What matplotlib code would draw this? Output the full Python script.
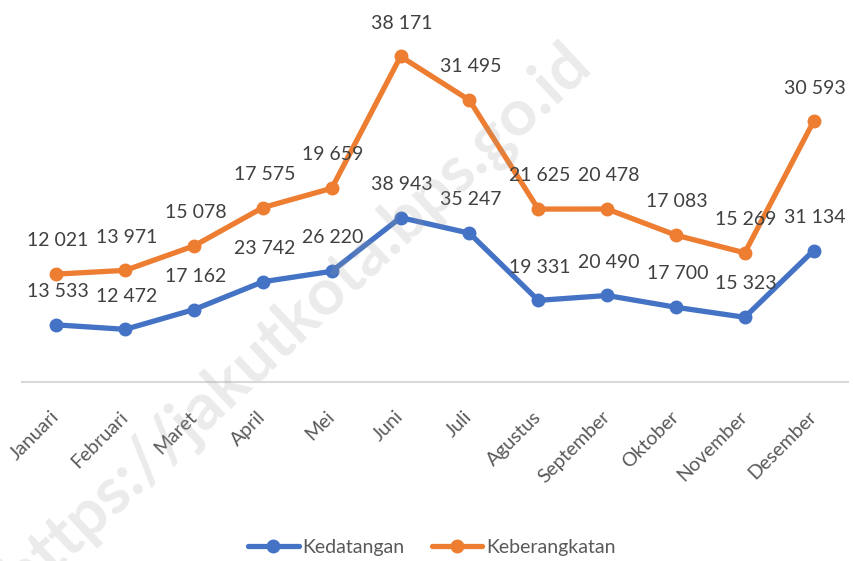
import matplotlib
matplotlib.use("Agg")
import matplotlib.pyplot as plt
import numpy as np

months = ["Januari", "Februari", "Maret", "April", "Mei", "Juni", "Juli",
          "Agustus", "September", "Oktober", "November", "Desember"]
kedatangan = [13533, 12472, 17162, 23742, 26220, 38943, 35247,
              19331, 20490, 17700, 15323, 31134]
keberangkatan = [12021, 13971, 15078, 17575, 19659, 38171, 31495,
                 21625, 20478, 17083, 15269, 30593]

plt.rcParams['font.family'] = ['Lato', 'DejaVu Sans']

fig = plt.figure(figsize=(8.54, 5.61), dpi=100)
ax = fig.add_axes([22/854, (561-382)/561, (848-22)/854, 380/561])

x = np.arange(len(months))
blue = '#4472C4'
orange = '#ED7D31'
stacked = np.array(kedatangan) + np.array(keberangkatan)

ax.plot(x, kedatangan, color=blue, lw=3.8, marker='o', ms=9,
        solid_capstyle='round', label='Kedatangan', zorder=3)
ax.plot(x, stacked, color=orange, lw=3.8, marker='o', ms=9,
        solid_capstyle='round', label='Keberangkatan', zorder=3)

def fmt(v):
    return f"{v:,}".replace(",", " ")

for xi, v in zip(x, kedatangan):
    ax.annotate(fmt(v), (xi, v), xytext=(1, 24), textcoords='offset points',
                ha='center', va='center', fontsize=14, color='#404040', zorder=4)
for xi, v, s in zip(x, keberangkatan, stacked):
    ax.annotate(fmt(v), (xi, s), xytext=(1, 24), textcoords='offset points',
                ha='center', va='center', fontsize=14, color='#404040', zorder=4)

ax.set_xlim(-0.5, len(months) - 0.5)
ax.set_ylim(0, 90000)
ax.set_yticks([])
for sp in ['top', 'right', 'left']:
    ax.spines[sp].set_visible(False)
ax.spines['bottom'].set_color('#D9D9D9')
ax.spines['bottom'].set_linewidth(1.5)
ax.set_xticks(x)
ax.set_xticklabels(months, rotation=45, ha='right', va='center',
                   rotation_mode='anchor', fontsize=14, color='#595959')
ax.tick_params(axis='x', length=0, pad=23)

fig.legend(loc='center', bbox_to_anchor=(432/854, 1 - 547/561), ncol=2,
           frameon=False, fontsize=14, labelcolor='#595959',
           handlelength=2.6, handletextpad=0.2, columnspacing=1.4)

fig.text(297/854, 1 - 320/561, "https://jakutkota.bps.go.id", rotation=43,
         ha='center', va='center', fontsize=47, fontweight='bold',
         color='#999999', alpha=0.2, zorder=10)

fig.savefig("out.png", dpi=100)
